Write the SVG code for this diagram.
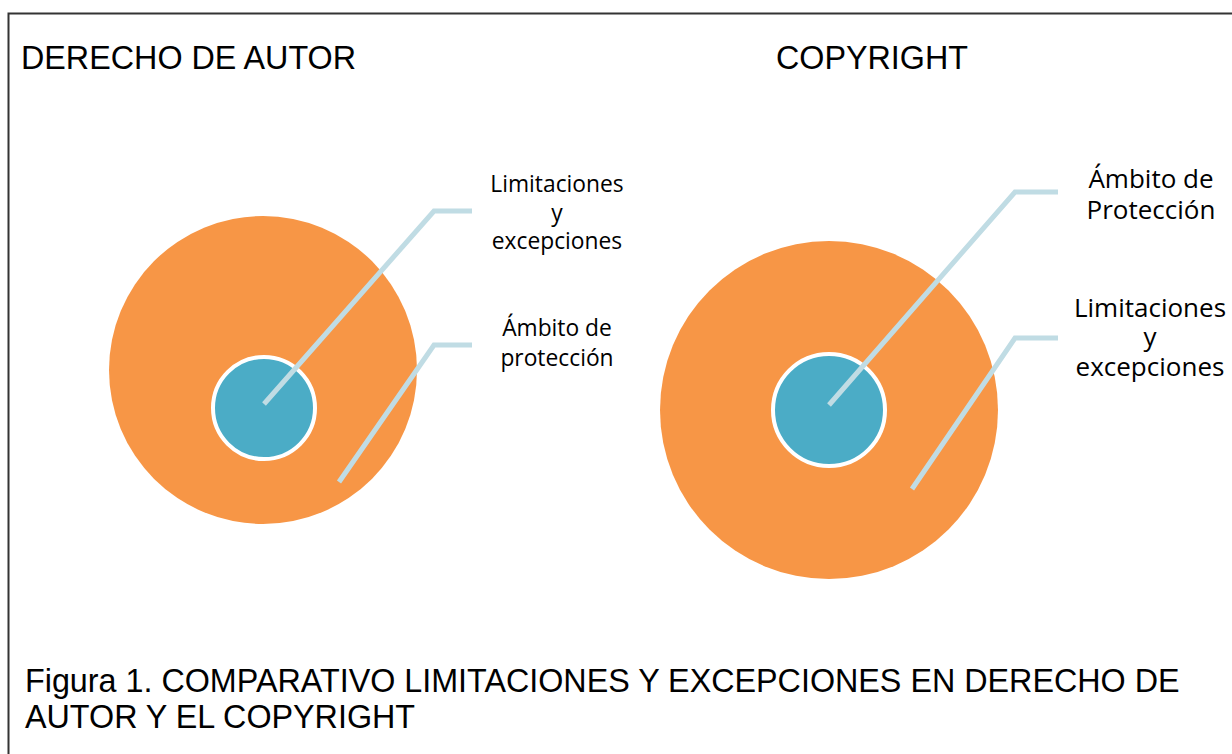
<svg xmlns="http://www.w3.org/2000/svg" width="1232" height="754" viewBox="0 0 1232 754">
<style>
.title{font-family:"Liberation Sans",Arial,sans-serif;font-size:32.3px;fill:#000}
.lbl{font-family:"Open Sans","Noto Sans",sans-serif;font-size:22.8px;fill:#000;text-anchor:middle}
.lblr{font-size:26px}
.outer{fill:#F79646}
.inner{fill:#4BACC6;stroke:#fff;stroke-width:4}
.conn{fill:none;stroke:#C0DCE4;stroke-width:5}
</style>
<rect x="0" y="0" width="1232" height="754" fill="#fff"/>
<rect x="8.5" y="13.5" width="1240" height="760" fill="none" stroke="#333" stroke-width="2"/>
<text class="title" x="21" y="69">DERECHO DE AUTOR</text>
<text class="title" x="776" y="69">COPYRIGHT</text>
<g id="left-outer"><circle class="outer" cx="263" cy="370" r="154"/></g>
<g id="left-inner"><circle class="inner" cx="264" cy="408" r="51"/></g>
<g id="right-outer"><circle class="outer" cx="829" cy="410" r="169"/></g>
<g id="right-inner"><circle class="inner" cx="829" cy="410" r="56"/></g>
<g id="connectors">
<polyline class="conn" points="264,404 434,211 472,211"/>
<polyline class="conn" points="339,482 434,345 472,345"/>
<polyline class="conn" points="829,405 1015,192 1058,192"/>
<polyline class="conn" points="912,489 1015,338 1058,338"/>
</g>
<g id="label-left-lim">
<text class="lbl" x="557" y="192">Limitaciones</text>
<text class="lbl" x="557" y="221">y</text>
<text class="lbl" x="557" y="249">excepciones</text>
</g>
<g id="label-left-amb">
<text class="lbl" x="557" y="336">Ámbito de</text>
<text class="lbl" x="557" y="366">protección</text>
</g>
<g id="label-right-amb">
<text class="lbl lblr" x="1151" y="188">Ámbito de</text>
<text class="lbl lblr" x="1151" y="219">Protección</text>
</g>
<g id="label-right-lim">
<text class="lbl lblr" x="1150" y="317">Limitaciones</text>
<text class="lbl lblr" x="1150" y="346">y</text>
<text class="lbl lblr" x="1150" y="376">excepciones</text>
</g>
<text class="title" x="25" y="692">Figura 1. COMPARATIVO LIMITACIONES Y EXCEPCIONES EN DERECHO DE</text>
<text class="title" x="25" y="728">AUTOR Y EL COPYRIGHT</text>
</svg>
